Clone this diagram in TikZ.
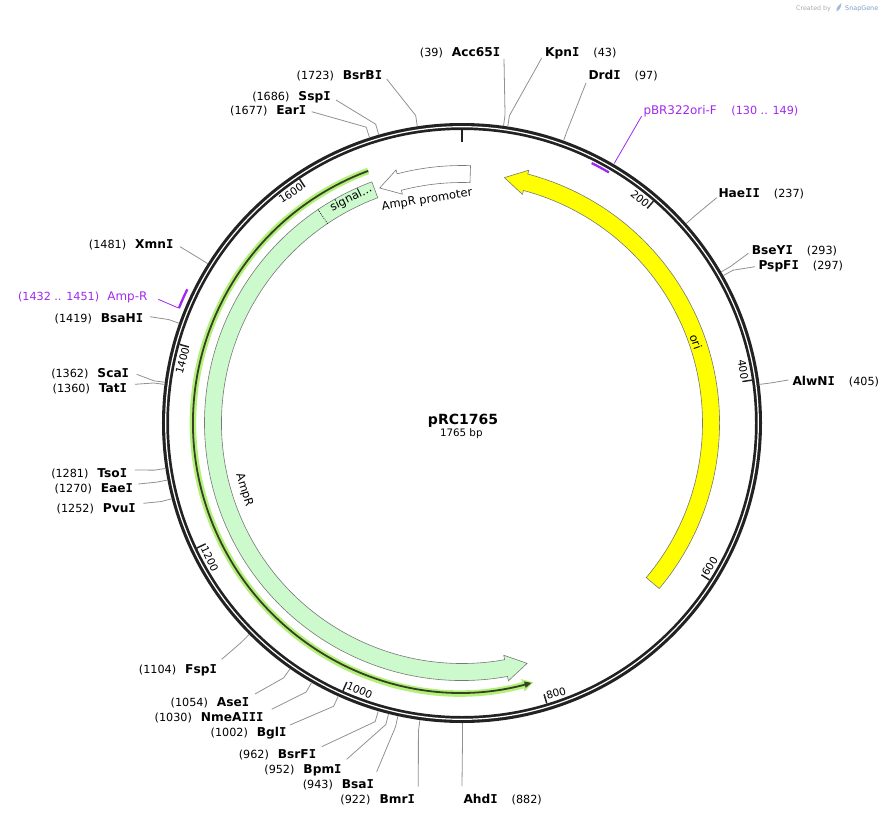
\documentclass[tikz,border=0pt]{standalone}
\usepackage{fontspec}
\setmainfont{DejaVu Sans}
\newfontfamily\dvmono{DejaVu Sans Mono}
\usetikzlibrary{arrows.meta}
\definecolor{ringc}{RGB}{34,34,34}
\definecolor{leadc}{RGB}{145,145,145}
\definecolor{ampfill}{RGB}{204,250,204}
\definecolor{featline}{RGB}{120,120,120}
\definecolor{orifill}{RGB}{255,255,0}
\definecolor{orfhalo}{RGB}{178,240,120}
\definecolor{orfline}{RGB}{55,65,40}
\definecolor{primc}{RGB}{160,40,240}
\definecolor{sgray}{RGB}{170,170,170}
\definecolor{sblue}{RGB}{120,160,200}

\pgfmathdeclarefunction{pa}{1}{\pgfmathparse{90-#1/4.90278}}

\newcommand\Ib{{\dvmono I}}
\newcommand\enzname[1]{{\fontsize{12.2}{14}\selectfont\bfseries #1}}
\newcommand\primname[1]{{\fontsize{11.9}{14}\selectfont #1}}
% left-type label: (num) Name
\newcommand\enzL[8]{%
  \node[enz, anchor=base west] (e#1) at (#4,#5) {\llap{(#3)\hspace{9pt}}\enzname{#2}};
  \coordinate (t#1) at (#7,#8);
  \draw[leader] (t#1) -- ({pa(#6)}:311) -- ({pa(#6)}:300);
}
% right-type label: Name (num)
\newcommand\enzR[8]{%
  \node[enz, anchor=base west] (e#1) at (#4,#5) {\enzname{#2}\rlap{\hspace{14pt}(#3)}};
  \coordinate (t#1) at (#7,#8);
  \draw[leader] (t#1) -- ({pa(#6)}:311) -- ({pa(#6)}:300);
}

\tikzset{
  enz/.style={inner sep=0pt, font=\fontsize{11.2}{13}\selectfont},
  leader/.style={draw=leadc, line width=0.8pt},
  ticklab/.style={font=\fontsize{10.5}{12}\selectfont, inner sep=1.5pt},
  featlab/.style={font=\fontsize{11.5}{13}\selectfont, inner sep=0pt},
  band/.style={draw=featline, line width=0.6pt},
  primer/.style={draw=primc, line width=2.3pt},
  primlead/.style={draw=primc, line width=0.8pt},
}

\begin{document}
\begin{tikzpicture}[x=1pt,y=1pt]
\useasboundingbox (-462,-394) rectangle (431,423);

% ---------- features ----------
% ori (reverse)
\draw[band, fill=orifill] (-40:240.5) arc[start angle=-40, end angle=75.2, radius=240.5]
  -- (75.2:236.5) -- (80.2:249) -- (75.2:261.5) -- (75.2:257.5)
  arc[start angle=75.2, end angle=-40, radius=257.5] -- cycle;
% AmpR (reverse)
\draw[band, fill=ampfill] (110.5:240.5) arc[start angle=110.5, end angle=280.2, radius=240.5]
  -- (280.2:236) -- (285.16:249) -- (280.2:262) -- (280.2:257.5)
  arc[start angle=280.2, end angle=110.5, radius=257.5] -- cycle;
% signal peptide divider
\draw[dash pattern=on 0.8pt off 1.2pt, line width=0.7pt] (124:240.5) -- (124:257.5);
% AmpR promoter
\draw[band, fill=white] (88.1:240.5) arc[start angle=88.1, end angle=104.6, radius=240.5]
  -- (104.6:236.5) -- (109.3:249) -- (104.6:261.5) -- (104.6:257.5)
  arc[start angle=104.6, end angle=88.1, radius=257.5] -- cycle;
% ORF line
\draw[orfhalo, line width=6.5pt, -{Triangle[length=11pt,width=12pt]}]
  (110.4:269) arc[start angle=110.4, end angle=285.4, radius=269];
\draw[orfline, line width=1.8pt, -{Triangle[length=7pt,width=6pt]}]
  (110.4:269) arc[start angle=110.4, end angle=285.0, radius=269];

% feature labels
\node[featlab, rotate=8.9] (lprom) at (98.9:225.7) {AmpR promoter};
\node[featlab, rotate=-72.9] (lamp) at (197.1:228) {AmpR};
\node[featlab, rotate=-70.9] (lori) at (19.1:247.6) {ori};
\node[featlab, rotate=26.3] (lsig) at (116.3:250.5) {signal...};

% ---------- backbone ----------
\draw[ringc, line width=7pt] (0,0) circle[radius=296.5];
\draw[white, line width=1.2pt] (0,0) circle[radius=296.3];
\draw[ringc, line width=2.8pt] (90:293) -- (90:281);
\foreach \p in {200,400,...,1600}
  \draw[ringc, line width=1.5pt] ({pa(\p)}:293) -- ({pa(\p)}:283.5);

% tick labels
\node[ticklab, rotate={pa(200)-90}, anchor=east] (tk200) at ({pa(200)}:286) {200};
\node[ticklab, rotate={pa(400)-90}, anchor=east] (tk400) at ({pa(400)}:286) {400};
\node[ticklab, rotate={pa(600)+90}, anchor=west] (tk600) at ({pa(600)}:286) {600};
\node[ticklab, rotate={pa(800)+90}, anchor=west] (tk800) at ({pa(800)}:286) {800};
\node[ticklab, rotate={pa(1000)+90}, anchor=west] (tk1000) at ({pa(1000)}:286) {1000};
\node[ticklab, rotate={pa(1200)+90}, anchor=west] (tk1200) at ({pa(1200)}:286) {1200};
\node[ticklab, rotate={pa(1400)+270}, anchor=east] (tk1400) at ({pa(1400)}:286) {1400};
\node[ticklab, rotate={pa(1600)+270}, anchor=east] (tk1600) at ({pa(1600)}:286) {1600};

% primers
\draw[primer] ({pa(130)}:290.5) arc[start angle={pa(130)}, end angle={pa(149)}, radius=290.5];
\draw[primer] ({pa(1432)}:305.5) arc[start angle={pa(1432)}, end angle={pa(1451)}, radius=305.5];
\node[enz, text=primc, anchor=base west] (pPF) at (181.3,308)
  {\primname{pBR322ori-F}\rlap{\hspace{14.6pt}(130 .. 149)}};
\coordinate (tPF) at (179.7,307);
\draw[primlead] (tPF) -- ({pa(149)}:301);
\node[enz, text=primc, anchor=base west] (pAR) at (-354.7,122.3)
  {\llap{(1432 .. 1451)\hspace{8.3pt}}\primname{Amp-R}};
\coordinate (tAR) at (-303.7,123.7);
\draw[primlead] (tAR) -- ({pa(1432)}:306);

% ---------- enzymes ----------
\enzR{KpnI}{Kpn\Ib}{43}{83}{366.3}{43}{79.7}{365}
\enzR{DrdI}{Drd\Ib}{97}{126.3}{343}{97}{124}{340}
\enzR{HaeII}{Hae\Ib\Ib}{237}{256.3}{225.7}{237}{254.7}{225.3}
\enzR{BseYI}{BseY\Ib}{293}{289.7}{169}{293}{286.3}{169.7}
\enzR{PspFI}{PspF\Ib}{297}{296.3}{154}{297}{293}{156.3}
\enzR{AlwNI}{AlwN\Ib}{405}{330.3}{38}{405}{326.3}{43}
\enzR{AhdI}{Ahd\Ib}{882}{1.3}{-380.3}{882}{0}{-363}

\enzL{Acc65I}{Acc65\Ib}{39}{-10.3}{366.3}{39}{42}{364}
\enzL{BsrBI}{BsrB\Ib}{1723}{-119.3}{343.7}{1723}{-75.3}{344}
\enzL{SspI}{Ssp\Ib}{1686}{-163.7}{322}{1686}{-126}{323}
\enzL{EarI}{Ear\Ib}{1677}{-185.8}{308}{1677}{-150.3}{311.3}
\enzL{XmnI}{Xmn\Ib}{1481}{-327}{174.7}{1481}{-282}{176.3}
\enzL{BsaHI}{BsaH\Ib}{1419}{-361.3}{100.7}{1419}{-312}{106.3}
\enzL{ScaI}{Sca\Ib}{1362}{-364.7}{45.7}{1362}{-325.3}{48.7}
\enzL{TatI}{Tat\Ib}{1360}{-363.3}{30.7}{1360}{-327}{38.7}
\enzL{TsoI}{Tso\Ib}{1281}{-364.7}{-54.3}{1281}{-327}{-47}
\enzL{EaeI}{Eae\Ib}{1270}{-361.3}{-69.7}{1270}{-323.7}{-61}
\enzL{PvuI}{Pvu\Ib}{1252}{-359.3}{-89.3}{1252}{-318.7}{-80.3}
\enzL{FspI}{Fsp\Ib}{1104}{-277}{-250.3}{1104}{-240.3}{-236.3}
\enzL{AseI}{Ase\Ib}{1054}{-245.3}{-283}{1054}{-207}{-271}
\enzL{NmeAIII}{NmeA\Ib\Ib\Ib}{1030}{-261.3}{-298.7}{1030}{-190.3}{-286.3}
\enzL{BglI}{Bgl\Ib}{1002}{-205.3}{-313.7}{1002}{-172}{-302}
\enzL{BsrFI}{BsrF\Ib}{962}{-184.3}{-335.3}{962}{-140.3}{-323.7}
\enzL{BpmI}{Bpm\Ib}{952}{-158.7}{-350.3}{952}{-115.3}{-336.3}
\enzL{BsaI}{Bsa\Ib}{943}{-120.3}{-365.3}{943}{-85.3}{-348.7}
\enzL{BmrI}{Bmr\Ib}{922}{-82.7}{-380.3}{922}{-43.7}{-363.7}

% ---------- centre ----------
\node[font=\fontsize{14}{16}\selectfont\bfseries, anchor=base, inner sep=0pt] (title) at (1,-1) {pRC1765};
\node[font=\fontsize{10.3}{12}\selectfont, anchor=base, inner sep=0pt] (size) at (-0.7,-13.7) {1765 bp};

% ---------- credit ----------
\node[font=\fontsize{6.3}{8}\selectfont, text=sgray, anchor=base west, inner sep=0pt] (cb) at (334,412.5) {Created by};
\fill[sblue!70] (374.5,411.5) .. controls (374,416) and (377,418) .. (379.5,420)
  -- (378.5,415.5) .. controls (377.5,413.5) and (376.5,412.5) .. cycle;
\node[font=\fontsize{6.4}{8}\selectfont, text=sblue, anchor=base west, inner sep=0pt] (sg) at (383,412.5) {SnapGene};
\end{tikzpicture}
\end{document}
